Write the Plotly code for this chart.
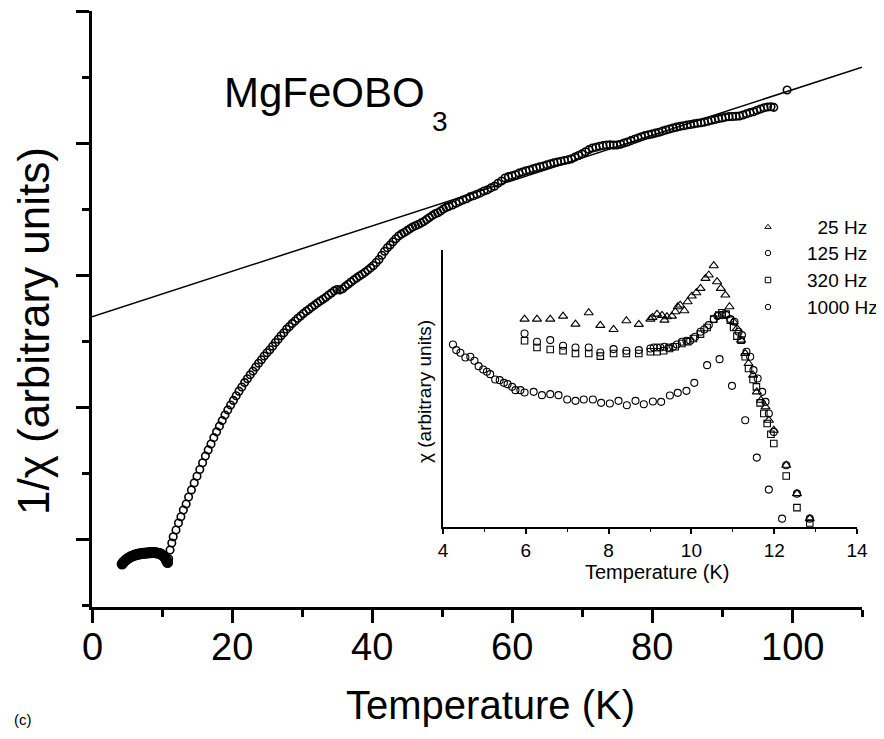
import plotly.graph_objects as go

# ---------------- main panel: 1/chi vs T ----------------
T_main = [4.3, 4.5, 4.7, 4.9, 5.1, 5.3, 5.5, 5.7, 5.9, 6.1, 6.3, 6.5, 6.7, 6.9, 7.1, 7.3, 7.5, 7.7,
          7.9, 8.1, 8.3, 8.5, 8.7, 8.9, 9.1, 9.3, 9.5, 9.7, 9.9, 10.1, 10.3, 10.5, 10.65, 10.8,
          10.95, 11.15, 11.4, 11.6, 12.0, 12.35, 12.7, 13.05, 13.45, 13.8, 14.2, 14.6, 15.0, 15.4,
          15.8, 16.2, 16.6, 17.0, 17.4, 17.8, 18.2, 18.6, 19.0, 19.4, 19.8, 20.2, 20.6, 21.0,
          21.4, 21.8, 22.2, 22.6, 23.0, 23.4, 23.8, 24.2, 24.6, 25.0, 25.4, 25.8, 26.2, 26.6,
          27.0, 27.4, 27.8, 28.2, 28.6, 29.0, 29.4, 29.8, 30.2, 30.6, 31.0, 31.4, 31.8, 32.2,
          32.6, 33.0, 33.4, 33.8, 34.2, 34.6, 35.0, 35.4, 35.8, 36.2, 36.6, 37.0, 37.4, 37.8,
          38.2, 38.6, 39.0, 39.4, 39.8, 40.2, 40.6, 41.0, 41.4, 41.8, 42.2, 42.6, 43.0, 43.4,
          43.8, 44.2, 44.6, 45.0, 45.4, 45.8, 46.2, 46.6, 47.0, 47.4, 47.8, 48.2, 48.6, 49.0,
          49.4, 49.8, 50.2, 50.6, 51.0, 51.5, 52.0, 52.5, 53.0, 53.5, 54.0, 54.5, 55.0, 55.5,
          56.0, 56.5, 57.0, 57.5, 58.0, 58.5, 59.0, 59.5, 60.0, 60.5, 61.0, 61.5, 62.0, 62.5,
          63.0, 63.5, 64.0, 64.5, 65.0, 65.5, 66.0, 66.5, 67.0, 67.5, 68.0, 68.5, 69.0, 69.5,
          70.0, 70.5, 71.0, 71.5, 72.0, 72.5, 73.0, 73.5, 74.0, 74.5, 75.0, 75.5, 76.0, 76.5,
          77.0, 77.5, 78.0, 78.5, 79.0, 79.5, 80.0, 80.5, 81.0, 81.5, 82.0, 82.5, 83.0, 83.5,
          84.0, 84.5, 85.0, 85.5, 86.0, 86.5, 87.0, 87.5, 88.0, 88.5, 89.0, 89.5, 90.0, 90.5,
          91.0, 91.5, 92.0, 92.5, 93.0, 93.5, 94.0, 94.5, 95.0, 95.5, 96.0, 96.5, 97.0, 97.4,
          99.3]
Y_main = [-0.190, -0.176, -0.165, -0.156, -0.148, -0.141, -0.135, -0.130, -0.126, -0.122, -0.119,
          -0.116, -0.114, -0.112, -0.110, -0.108, -0.107, -0.106, -0.105, -0.104, -0.104, -0.103,
          -0.103, -0.103, -0.104, -0.105, -0.107, -0.110, -0.116, -0.124, -0.134, -0.146, -0.163,
          -0.178, -0.150, -0.083, -0.030, 0.017, 0.068, 0.121, 0.169, 0.220, 0.265, 0.318, 0.372,
          0.425, 0.476, 0.527, 0.578, 0.628, 0.675, 0.720, 0.768, 0.812, 0.855, 0.897, 0.939,
          0.978, 1.015, 1.050, 1.085, 1.120, 1.152, 1.185, 1.214, 1.244, 1.272, 1.303, 1.332,
          1.358, 1.386, 1.411, 1.434, 1.461, 1.489, 1.513, 1.540, 1.563, 1.590, 1.610, 1.632,
          1.652, 1.672, 1.690, 1.708, 1.726, 1.741, 1.757, 1.772, 1.788, 1.803, 1.816, 1.832,
          1.848, 1.864, 1.880, 1.890, 1.886, 1.896, 1.914, 1.930, 1.947, 1.963, 1.978, 1.992,
          2.006, 2.021, 2.037, 2.054, 2.072, 2.095, 2.118, 2.150, 2.180, 2.207, 2.228, 2.252,
          2.275, 2.296, 2.310, 2.322, 2.336, 2.350, 2.363, 2.373, 2.383, 2.394, 2.405, 2.420,
          2.435, 2.450, 2.463, 2.472, 2.485, 2.500, 2.512, 2.520, 2.530, 2.544, 2.556, 2.568,
          2.578, 2.592, 2.600, 2.612, 2.622, 2.636, 2.645, 2.660, 2.673, 2.695, 2.712, 2.735,
          2.745, 2.752, 2.760, 2.772, 2.780, 2.790, 2.796, 2.805, 2.812, 2.820, 2.826, 2.835,
          2.842, 2.850, 2.856, 2.862, 2.868, 2.873, 2.880, 2.893, 2.905, 2.918, 2.934, 2.950,
          2.962, 2.968, 2.975, 2.980, 2.985, 2.986, 2.984, 2.985, 2.990, 3.000, 3.008, 3.018,
          3.028, 3.038, 3.047, 3.056, 3.063, 3.068, 3.075, 3.082, 3.090, 3.098, 3.106, 3.114,
          3.120, 3.126, 3.131, 3.136, 3.140, 3.145, 3.150, 3.153, 3.158, 3.165, 3.172, 3.178,
          3.185, 3.190, 3.196, 3.200, 3.201, 3.203, 3.205, 3.212, 3.222, 3.230, 3.237, 3.248,
          3.258, 3.267, 3.273, 3.275, 3.270, 3.402]

# Curie-Weiss fit line (end points)
fit_T = [0.0, 110.0]
fit_Y = [1.684, 3.574]

# ---------------- inset: chi vs T at four frequencies ----------------
T_25 = [5.97, 6.27, 6.59, 6.90, 7.20, 7.52, 7.80, 8.12, 8.43, 8.73, 9.01, 9.06, 9.17, 9.29, 9.35,
        9.41, 9.53, 9.61, 9.67, 9.73, 9.83, 9.91, 10.01, 10.12, 10.22, 10.34, 10.42, 10.54, 10.62,
        10.71, 10.82, 10.92, 11.02, 11.10, 11.20, 11.30, 11.38, 11.49, 11.58, 11.68, 11.79, 11.87,
        11.99, 12.29, 12.55, 12.86]
X_25 = [6.23, 6.23, 6.23, 6.32, 6.08, 6.42, 6.04, 5.92, 6.18, 6.07, 6.23, 6.28, 6.38, 6.34, 6.20,
        6.30, 6.32, 6.45, 6.60, 6.65, 6.48, 6.75, 6.92, 7.02, 7.15, 7.45, 7.55, 7.83, 7.35,
        7.15, 6.95, 6.60, 6.15, 5.95, 5.60, 5.20, 4.90, 4.55, 4.05, 3.80, 3.60, 3.20,
        2.90, 1.85, 1.00, 0.25]

T_125 = [5.97, 6.27, 6.59, 6.90, 7.20, 7.52, 7.80, 8.12, 8.43, 8.73, 9.01, 9.09, 9.17, 9.25, 9.35,
         9.45, 9.56, 9.65, 9.77, 9.88, 9.97, 10.09, 10.22, 10.31, 10.42, 10.54, 10.63, 10.74, 10.84,
         10.94, 11.04, 11.14, 11.22, 11.33, 11.42, 11.50, 11.60, 11.71, 11.79, 11.87, 11.99, 12.29,
         12.55, 12.86]
X_125 = [5.80, 5.55, 5.60, 5.43, 5.38, 5.38, 5.23, 5.33, 5.28, 5.30, 5.35, 5.38, 5.38, 5.38, 5.40,
         5.38, 5.40, 5.47, 5.55, 5.58, 5.58, 5.70, 5.85, 5.92, 6.05, 6.23, 6.32, 6.35, 6.35,
         6.23, 6.15, 5.85, 5.75, 5.25, 5.10, 4.70, 4.45, 4.05, 3.75, 3.40, 2.85, 1.85,
         1.00, 0.25]

T_320 = [5.97, 6.27, 6.59, 6.90, 7.20, 7.52, 7.80, 8.12, 8.43, 8.73, 9.01, 9.17, 9.33, 9.47, 9.61,
         9.77, 9.91, 10.05, 10.22, 10.38, 10.54, 10.66, 10.74, 10.84, 10.94, 11.02, 11.10, 11.20,
         11.30, 11.38, 11.49, 11.57, 11.66, 11.75, 11.83, 11.92, 11.99, 12.29, 12.55, 12.86]
X_320 = [5.58, 5.38, 5.32, 5.28, 5.20, 5.20, 5.12, 5.20, 5.20, 5.20, 5.25, 5.25, 5.28, 5.35, 5.40,
         5.50, 5.55, 5.65, 5.78, 5.98, 6.23, 6.35, 6.42, 6.38, 6.20, 5.98, 5.72, 5.60,
         5.10, 4.75, 4.42, 4.20, 3.72, 3.40, 3.10, 2.78, 2.50, 1.53, 0.58, 0.12]

T_1000 = [4.24, 4.32, 4.42, 4.54, 4.66, 4.76, 4.86, 4.97, 5.06, 5.14, 5.26, 5.37, 5.47, 5.56, 5.67,
          5.75, 5.87, 5.97, 6.19, 6.39, 6.59, 6.79, 7.00, 7.20, 7.40, 7.62, 7.82, 8.03, 8.24, 8.44,
          8.65, 8.85, 9.07, 9.27, 9.48, 9.67, 9.88, 10.07, 10.38, 10.68, 10.98, 11.30, 11.58,
          11.87, 12.19]
X_1000 = [5.47, 5.30, 5.22, 5.08, 5.10, 4.98, 4.82, 4.72, 4.65, 4.58, 4.42, 4.40, 4.32, 4.28, 4.20,
          4.10, 4.10, 4.03, 4.05, 3.95, 3.98, 3.95, 3.82, 3.78, 3.82, 3.82, 3.72, 3.70, 3.78, 3.65,
          3.78, 3.68, 3.76, 3.75, 3.94, 4.02, 4.08, 4.32, 4.85, 5.03, 4.23, 3.20, 2.08,
          1.12, 0.25]

legend_labels = ["\u00a0\u00a025 Hz", "125 Hz", "320 Hz", "1000 Hz"]
legend_symbols = ["triangle-up-open", "circle-open", "square-open", "circle-open"]

x_ticks_main = [0, 20, 40, 60, 80, 100]
x_ticks_inset = [4, 6, 8, 10, 12, 14]

# ---------------- layout helpers (pixel placement) ----------------
# the page body has an 8 px margin, so the figure is drawn 8 px smaller and
# every page-pixel position is shifted by that offset
PAGE_W, PAGE_H = 884, 739
OFF = 8
W, H = PAGE_W - OFF, PAGE_H - OFF
FONT = "Liberation Sans, Arial, Helvetica, sans-serif"


def fx(p):
    return (p - OFF) / W


def fy(p):
    return 1 - (p - OFF) / H


N_BLOB = 34  # the dense low-temperature points (T < 10.9 K) drawn heavier

fig = go.Figure()

fig.add_trace(go.Scatter(
    x=fit_T, y=fit_Y, mode="lines", line=dict(color="black", width=1.5),
    xaxis="x", yaxis="y", showlegend=False, hoverinfo="skip"))

fig.add_trace(go.Scatter(
    x=T_main[:N_BLOB], y=Y_main[:N_BLOB], mode="markers",
    marker=dict(symbol="circle-open", size=8, color="black", line=dict(width=3)),
    xaxis="x", yaxis="y", showlegend=False))

fig.add_trace(go.Scatter(
    x=T_main[N_BLOB:], y=Y_main[N_BLOB:], mode="markers",
    marker=dict(symbol="circle-open", size=7.5, color="black", line=dict(width=1.6)),
    xaxis="x", yaxis="y", showlegend=False))

inset_sets = [
    (T_25, X_25, "triangle-up-open", 8),
    (T_125, X_125, "circle-open", 7),
    (T_320, X_320, "square-open", 6.5),
    (T_1000, X_1000, "circle-open", 7),
]
for tt, xx, sym, sz in inset_sets:
    fig.add_trace(go.Scatter(
        x=tt, y=xx, mode="markers",
        marker=dict(symbol=sym, size=sz, color="black", line=dict(width=1.1)),
        xaxis="x2", yaxis="y2", showlegend=False))

# legend glyphs (layout positions in page pixels on a hidden full-page axis)
leg_px_x = [768, 768, 768, 768]
leg_px_y = [227, 253, 280, 307]
fig.add_trace(go.Scatter(
    x=leg_px_x, y=leg_px_y, mode="markers",
    marker=dict(symbol=legend_symbols, size=5.5, color="black", line=dict(width=1.0)),
    xaxis="x3", yaxis="y3", showlegend=False, hoverinfo="skip"))

annotations = []
for lab, py in zip(legend_labels, leg_px_y):
    annotations.append(dict(text=lab, x=fx(805), y=fy(py), xref="paper", yref="paper",
                            xanchor="left", yanchor="middle", showarrow=False,
                            font=dict(family=FONT, size=19, color="black")))

# main x tick labels, placed at their data positions on the main x axis
for tv in x_ticks_main:
    annotations.append(dict(text=str(tv), x=tv, xref="x", y=fy(647), yref="paper",
                            xanchor="center", yanchor="middle", showarrow=False,
                            font=dict(family=FONT, size=38, color="black")))

annotations += [
    dict(text="MgFeOBO", x=fx(222), y=fy(93), xref="paper", yref="paper",
         xanchor="left", yanchor="middle", showarrow=False,
         font=dict(family=FONT, size=42, color="black")),
    dict(text="3", x=fx(430), y=fy(122), xref="paper", yref="paper",
         xanchor="left", yanchor="middle", showarrow=False,
         font=dict(family=FONT, size=28, color="black")),
    dict(text="Temperature (K)", x=fx(490), y=fy(705), xref="paper", yref="paper",
         xanchor="center", yanchor="middle", showarrow=False,
         font=dict(family=FONT, size=40, color="black")),
    dict(text="1/\u03c7 (arbitrary units)", x=fx(33), y=fy(331), xref="paper", yref="paper",
         xanchor="center", yanchor="middle", showarrow=False, textangle=-90,
         font=dict(family=FONT, size=44, color="black")),
    dict(text="(c)", x=fx(12), y=fy(719), xref="paper", yref="paper",
         xanchor="left", yanchor="middle", showarrow=False,
         font=dict(family=FONT, size=15, color="black")),
    dict(text="Temperature (K)", x=fx(657), y=fy(572), xref="paper", yref="paper",
         xanchor="center", yanchor="middle", showarrow=False,
         font=dict(family=FONT, size=20, color="black")),
    dict(text="\u03c7 (arbitrary units)", x=fx(424), y=fy(392), xref="paper", yref="paper",
         xanchor="center", yanchor="middle", showarrow=False, textangle=-90,
         font=dict(family=FONT, size=19, color="black")),
]

fig.update_layout(
    width=W, height=H,
    margin=dict(l=0, r=0, t=0, b=0, autoexpand=False),
    paper_bgcolor="white", plot_bgcolor="rgba(0,0,0,0)",
    showlegend=False,
    font=dict(family=FONT, color="black"),
    annotations=annotations,
    xaxis=dict(
        domain=[fx(92), fx(862)], range=[0, 110], anchor="y", automargin=False,
        tickmode="array", tickvals=x_ticks_main, ticks="outside", ticklen=13, tickwidth=2.5,
        tickcolor="black", showline=True, linecolor="black", linewidth=3,
        showticklabels=False, showgrid=False, zeroline=False,
        minor=dict(dtick=10, tick0=0, ticks="outside", ticklen=7, tickwidth=2.5,
                   tickcolor="black", showgrid=False),
    ),
    yaxis=dict(
        domain=[fy(607), fy(11)], range=[-0.515, 4.0], anchor="x", automargin=False,
        tick0=0, dtick=1, ticks="outside", ticklen=13, tickwidth=2.5, tickcolor="black",
        showticklabels=False, showline=True, linecolor="black", linewidth=3,
        showgrid=False, zeroline=False,
        minor=dict(dtick=0.5, tick0=0, ticks="outside", ticklen=7, tickwidth=2.5,
                   tickcolor="black", showgrid=False),
    ),
    xaxis2=dict(
        domain=[fx(443), fx(857)], range=[4, 14], anchor="y2", automargin=False,
        tickmode="array", tickvals=x_ticks_inset, ticks="outside", ticklen=5, tickwidth=1.5,
        tickcolor="black", showline=True, linecolor="black", linewidth=2,
        showgrid=False, zeroline=False, tickfont=dict(family=FONT, size=19, color="black"),
        minor=dict(dtick=1, tick0=4, ticks="outside", ticklen=3, tickwidth=1.2,
                   tickcolor="black", showgrid=False),
    ),
    yaxis2=dict(
        domain=[fy(527), fy(250)], range=[0, 8.3], anchor="x2", automargin=False,
        ticks="", showticklabels=False, showline=True, linecolor="black", linewidth=2,
        showgrid=False, zeroline=False,
    ),
    xaxis3=dict(domain=[0, 1], range=[OFF, PAGE_W], anchor="y3", visible=False,
                fixedrange=True, automargin=False),
    yaxis3=dict(domain=[0, 1], range=[PAGE_H, OFF], anchor="x3", visible=False,
                fixedrange=True, automargin=False),
)

fig.write_html("out.html")
